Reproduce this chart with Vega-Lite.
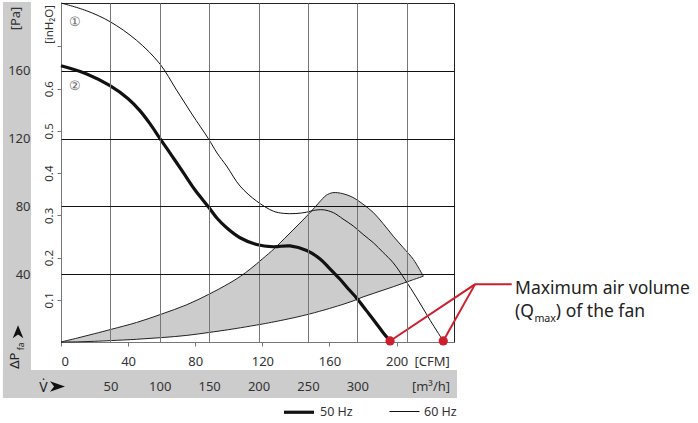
{
  "$schema": "https://vega.github.io/schema/vega-lite/v6.json",
  "width": 393,
  "height": 339,
  "autosize": {"type": "none"},
  "padding": {"left": 61, "top": 3, "right": 244, "bottom": 81},
  "config": {
    "font": "Noto Sans",
    "view": {"stroke": "#222", "strokeWidth": 1},
    "axis": {"labelFont": "Noto Sans", "titleFont": "Noto Sans", "labelColor": "#333", "titleColor": "#333", "titleFontWeight": "normal", "labelOverlap": false}
  },
  "datasets": {
    "bands": [
      {"x": -34.6, "x2": -17.9, "y": 200.6, "y2": -33.0},
      {"x": -34.6, "x2": 236.0, "y": -16.5, "y2": -33.0}
    ],
    "region": [
      {"cfm": 0, "up": 0, "lo": 0}, {"cfm": 10, "up": 2.4, "lo": 0.1}, {"cfm": 20, "up": 4.9, "lo": 0.4},
      {"cfm": 30, "up": 7.5, "lo": 0.85}, {"cfm": 45, "up": 11.5, "lo": 1.6}, {"cfm": 60, "up": 16.5, "lo": 2.6},
      {"cfm": 75, "up": 22, "lo": 3.9}, {"cfm": 88, "up": 28.1, "lo": 5.6}, {"cfm": 100, "up": 34.5, "lo": 7.3},
      {"cfm": 107, "up": 38.8, "lo": 8.4}, {"cfm": 113, "up": 43.2, "lo": 9.4}, {"cfm": 120, "up": 49, "lo": 10.6},
      {"cfm": 127, "up": 55, "lo": 11.9}, {"cfm": 131, "up": 58.9, "lo": 12.7}, {"cfm": 140, "up": 67.8, "lo": 14.6},
      {"cfm": 148, "up": 75.9, "lo": 16.5}, {"cfm": 154, "up": 82.5, "lo": 18.1}, {"cfm": 158, "up": 86.5, "lo": 19.2},
      {"cfm": 162, "up": 88.1, "lo": 20.4}, {"cfm": 168, "up": 87.5, "lo": 22.2}, {"cfm": 174, "up": 85.3, "lo": 24.2},
      {"cfm": 180, "up": 81.3, "lo": 26.6}, {"cfm": 186, "up": 76.5, "lo": 28.6}, {"cfm": 192, "up": 69.8, "lo": 30.6},
      {"cfm": 198, "up": 62.4, "lo": 32.6}, {"cfm": 204, "up": 55.6, "lo": 34.7}, {"cfm": 210, "up": 48.7, "lo": 36.8},
      {"cfm": 215.9, "up": 38.8, "lo": 38.8}
    ],
    "curves": [
      {"series": "50 Hz", "cfm": 0, "pa": 163.0}, {"series": "50 Hz", "cfm": 15, "pa": 158.3},
      {"series": "50 Hz", "cfm": 29.2, "pa": 151.2}, {"series": "50 Hz", "cfm": 40, "pa": 143.5},
      {"series": "50 Hz", "cfm": 47, "pa": 136.5}, {"series": "50 Hz", "cfm": 53, "pa": 128.8},
      {"series": "50 Hz", "cfm": 59, "pa": 120.0},
      {"series": "50 Hz", "cfm": 66, "pa": 110.0}, {"series": "50 Hz", "cfm": 72.9, "pa": 99.9},
      {"series": "50 Hz", "cfm": 80, "pa": 89.5}, {"series": "50 Hz", "cfm": 87.8, "pa": 79.8},
      {"series": "50 Hz", "cfm": 93, "pa": 73.0}, {"series": "50 Hz", "cfm": 98.7, "pa": 67.4},
      {"series": "50 Hz", "cfm": 106.7, "pa": 61.5}, {"series": "50 Hz", "cfm": 116.6, "pa": 57.5},
      {"series": "50 Hz", "cfm": 126.5, "pa": 56.2}, {"series": "50 Hz", "cfm": 136.5, "pa": 56.7},
      {"series": "50 Hz", "cfm": 146.4, "pa": 54.0}, {"series": "50 Hz", "cfm": 154.4, "pa": 49.0},
      {"series": "50 Hz", "cfm": 160, "pa": 43.5}, {"series": "50 Hz", "cfm": 166.3, "pa": 37.0},
      {"series": "50 Hz", "cfm": 171, "pa": 31.6}, {"series": "50 Hz", "cfm": 176.2, "pa": 25.9},
      {"series": "50 Hz", "cfm": 182, "pa": 18.5}, {"series": "50 Hz", "cfm": 187.1, "pa": 12.0},
      {"series": "50 Hz", "cfm": 192, "pa": 5.5}, {"series": "50 Hz", "cfm": 196.1, "pa": 0.6},
      {"series": "60 Hz", "cfm": 0, "pa": 200}, {"series": "60 Hz", "cfm": 15, "pa": 195.5},
      {"series": "60 Hz", "cfm": 29.2, "pa": 189.0}, {"series": "60 Hz", "cfm": 45, "pa": 178.0},
      {"series": "60 Hz", "cfm": 59, "pa": 164.0}, {"series": "60 Hz", "cfm": 68.5, "pa": 149.2},
      {"series": "60 Hz", "cfm": 78, "pa": 134.5}, {"series": "60 Hz", "cfm": 87.8, "pa": 120.0},
      {"series": "60 Hz", "cfm": 93, "pa": 111.5}, {"series": "60 Hz", "cfm": 98.7, "pa": 103.8},
      {"series": "60 Hz", "cfm": 106.7, "pa": 92.0}, {"series": "60 Hz", "cfm": 116.6, "pa": 83.1},
      {"series": "60 Hz", "cfm": 126.5, "pa": 77.2}, {"series": "60 Hz", "cfm": 132.5, "pa": 75.9},
      {"series": "60 Hz", "cfm": 140, "pa": 75.8}, {"series": "60 Hz", "cfm": 146.4, "pa": 76.6},
      {"series": "60 Hz", "cfm": 150.4, "pa": 77.6}, {"series": "60 Hz", "cfm": 156.3, "pa": 78.0},
      {"series": "60 Hz", "cfm": 162.3, "pa": 76.3}, {"series": "60 Hz", "cfm": 168, "pa": 72.6},
      {"series": "60 Hz", "cfm": 174.2, "pa": 68.4}, {"series": "60 Hz", "cfm": 180, "pa": 63.5},
      {"series": "60 Hz", "cfm": 186.2, "pa": 58.5}, {"series": "60 Hz", "cfm": 192, "pa": 52.8},
      {"series": "60 Hz", "cfm": 198, "pa": 46.7}, {"series": "60 Hz", "cfm": 205, "pa": 36.8},
      {"series": "60 Hz", "cfm": 212, "pa": 26.0}, {"series": "60 Hz", "cfm": 220, "pa": 12.8},
      {"series": "60 Hz", "cfm": 227.8, "pa": 0.6}
    ],
    "redlines": [
      {"g": "a", "o": 1, "cfm": 196.1, "pa": 0.6}, {"g": "a", "o": 2, "cfm": 246.7, "pa": 34.0}, {"g": "a", "o": 3, "cfm": 268.6, "pa": 34.0},
      {"g": "b", "o": 1, "cfm": 227.8, "pa": 0.6}, {"g": "b", "o": 2, "cfm": 246.7, "pa": 34.0}
    ],
    "reddots": [{"cfm": 196.1, "pa": 0.6}, {"cfm": 227.8, "pa": 0.6}],
    "bigtext": [
      {"t": "Maximum air volume", "cfm": 270.6, "pa": 31.3},
      {"t": "(Q", "cfm": 270.6, "pa": 17.9},
      {"t": ") of the fan", "cfm": 294.9, "pa": 17.9}
    ],
    "subtext": [{"t": "max", "cfm": 282.1, "pa": 13.6}],
    "circled": [{"t": "①", "cfm": 8.3, "pa": 189.0}, {"t": "②", "cfm": 8.3, "pa": 151.0}],
    "vlabel": [{"t": "V\u0307", "cfm": -10.4, "pa": -29.3}],
    "dplabel": [{"t": "ΔP", "cfm": -27.7, "pa": -11.0}],
    "dpsub": [{"t": "fa", "cfm": -24.0, "pa": -2.6}],
    "uparrow": [{"cfm": -25.6, "pa": 6.1}],
    "rightarrow": [{"cfm": -2.1, "pa": -26.3}]
  },
  "layer": [
    {
      "data": {"name": "bands"},
      "mark": {"type": "rect", "color": "#cccccc"},
      "encoding": {
        "x": {"field": "x", "type": "quantitative", "scale": {"domain": [0, 234.2], "nice": false, "zero": false}, "axis": null},
        "x2": {"field": "x2"},
        "y": {"field": "y", "type": "quantitative", "scale": {"domain": [0, 200], "nice": false, "zero": false}, "axis": null},
        "y2": {"field": "y2"}
      }
    },
    {
      "data": {"name": "region"},
      "mark": {"type": "area", "color": "#cccccc", "opacity": 1, "interpolate": "catmull-rom", "stroke": "#222", "strokeWidth": 1},
      "encoding": {
        "x": {"field": "cfm", "type": "quantitative", "scale": {"domain": [0, 234.2], "nice": false, "zero": false},
          "axis": {"orient": "bottom", "values": [0, 40, 80, 120, 160, 200], "grid": false, "tickSize": 4, "tickColor": "#777", "domainColor": "#777",
            "labelFontSize": 13, "labelBaseline": "middle", "labelPadding": 15,
            "title": "[CFM]", "titleFontSize": 13, "titleX": 370.7, "titleY": 19, "titleAlign": "center", "titleBaseline": "middle"}},
        "y": {"field": "up", "type": "quantitative", "scale": {"domain": [0, 200], "nice": false, "zero": false},
          "axis": {"orient": "left", "values": [40, 80, 120, 160], "grid": true, "gridColor": "#111", "gridWidth": 1, "ticks": false, "tickSize": 0, "domain": false,
            "labelFontSize": 13, "labelPadding": 31, "zindex": 1,
            "title": "[Pa]", "titleFontSize": 13, "titleAngle": 270, "titleX": -46, "titleY": 15, "titleAlign": "center", "titleBaseline": "middle"}},
        "y2": {"field": "lo"}
      }
    },
    {
      "data": {"name": "curves"},
      "mark": {"type": "line", "color": "#111", "interpolate": "catmull-rom"},
      "encoding": {
        "x": {"field": "cfm", "type": "quantitative", "scale": {"domain": [0, 234.2], "nice": false, "zero": false},
          "axis": {"orient": "bottom", "values": [29.43, 58.86, 88.29, 117.72, 147.15, 176.57, 206.0],
            "labelExpr": "datum.value > 200 ? '' : format(round(datum.value * 1.69901), 'd')",
            "grid": true, "gridColor": "#777", "gridWidth": 1, "ticks": false, "tickSize": 0, "domain": false, "zindex": 1,
            "labelFontSize": 13, "labelBaseline": "middle", "labelPadding": 44,
            "title": "[m³/h]", "titleFontSize": 13, "titleX": 369.5, "titleY": 44.5, "titleAlign": "center", "titleBaseline": "middle"}},
        "y": {"field": "pa", "type": "quantitative", "scale": {"domain": [0, 200], "nice": false, "zero": false},
          "axis": {"orient": "left", "values": [24.91, 49.82, 74.73, 99.64, 124.54, 149.45, 174.36],
            "labelExpr": "datum.value > 160 ? '' : format(datum.value / 249.089, '.1f')",
            "grid": false, "tickSize": 4, "tickColor": "#777", "domainColor": "#777",
            "labelAngle": 270, "labelAlign": "center", "labelBaseline": "alphabetic", "labelPadding": 4.5, "labelFontSize": 11.5,
            "title": "[inH₂O]", "titleFontSize": 11.5, "titleAngle": 270, "titleX": -12, "titleY": 21, "titleAlign": "center", "titleBaseline": "middle"}},
        "strokeWidth": {"field": "series", "type": "nominal",
          "scale": {"domain": ["50 Hz", "60 Hz"], "range": [3.2, 1]},
          "legend": {"orient": "none", "legendX": 221, "legendY": 392, "direction": "horizontal", "title": null,
            "symbolType": "stroke", "symbolSize": 900, "symbolStrokeColor": "#111", "labelFontSize": 12.5, "labelColor": "#333",
            "labelOffset": 4, "columnPadding": 34, "labelFont": "Noto Sans"}}
      }
    },
    {
      "data": {"name": "redlines"},
      "mark": {"type": "line", "color": "#cc1f2e", "strokeWidth": 2},
      "encoding": {
        "x": {"field": "cfm", "type": "quantitative", "scale": {"domain": [0, 234.2], "nice": false, "zero": false}, "axis": null},
        "y": {"field": "pa", "type": "quantitative", "scale": {"domain": [0, 200], "nice": false, "zero": false}, "axis": null},
        "detail": {"field": "g"},
        "order": {"field": "o"}
      }
    },
    {
      "data": {"name": "reddots"},
      "mark": {"type": "point", "shape": "circle", "filled": true, "color": "#cc1f2e", "opacity": 1, "size": 85},
      "encoding": {
        "x": {"field": "cfm", "type": "quantitative", "scale": {"domain": [0, 234.2], "nice": false, "zero": false}, "axis": null},
        "y": {"field": "pa", "type": "quantitative", "scale": {"domain": [0, 200], "nice": false, "zero": false}, "axis": null}
      }
    },
    {
      "data": {"name": "bigtext"},
      "mark": {"type": "text", "align": "left", "baseline": "middle", "fontSize": 17.5, "color": "#222"},
      "encoding": {
        "x": {"field": "cfm", "type": "quantitative", "scale": {"domain": [0, 234.2], "nice": false, "zero": false}, "axis": null},
        "y": {"field": "pa", "type": "quantitative", "scale": {"domain": [0, 200], "nice": false, "zero": false}, "axis": null},
        "text": {"field": "t"}
      }
    },
    {
      "data": {"name": "subtext"},
      "mark": {"type": "text", "align": "left", "baseline": "middle", "fontSize": 10.7, "color": "#222"},
      "encoding": {
        "x": {"field": "cfm", "type": "quantitative", "scale": {"domain": [0, 234.2], "nice": false, "zero": false}, "axis": null},
        "y": {"field": "pa", "type": "quantitative", "scale": {"domain": [0, 200], "nice": false, "zero": false}, "axis": null},
        "text": {"field": "t"}
      }
    },
    {
      "data": {"name": "circled"},
      "mark": {"type": "text", "align": "center", "baseline": "middle", "fontSize": 13, "color": "#666"},
      "encoding": {
        "x": {"field": "cfm", "type": "quantitative", "scale": {"domain": [0, 234.2], "nice": false, "zero": false}, "axis": null},
        "y": {"field": "pa", "type": "quantitative", "scale": {"domain": [0, 200], "nice": false, "zero": false}, "axis": null},
        "text": {"field": "t"}
      }
    },
    {
      "data": {"name": "vlabel"},
      "mark": {"type": "text", "align": "center", "baseline": "alphabetic", "fontSize": 14, "color": "#222"},
      "encoding": {
        "x": {"field": "cfm", "type": "quantitative", "scale": {"domain": [0, 234.2], "nice": false, "zero": false}, "axis": null},
        "y": {"field": "pa", "type": "quantitative", "scale": {"domain": [0, 200], "nice": false, "zero": false}, "axis": null},
        "text": {"field": "t"}
      }
    },
    {
      "data": {"name": "dplabel"},
      "mark": {"type": "text", "align": "center", "baseline": "middle", "angle": 270, "fontSize": 13, "color": "#222"},
      "encoding": {
        "x": {"field": "cfm", "type": "quantitative", "scale": {"domain": [0, 234.2], "nice": false, "zero": false}, "axis": null},
        "y": {"field": "pa", "type": "quantitative", "scale": {"domain": [0, 200], "nice": false, "zero": false}, "axis": null},
        "text": {"field": "t"}
      }
    },
    {
      "data": {"name": "dpsub"},
      "mark": {"type": "text", "align": "center", "baseline": "middle", "angle": 270, "fontSize": 8.5, "color": "#222"},
      "encoding": {
        "x": {"field": "cfm", "type": "quantitative", "scale": {"domain": [0, 234.2], "nice": false, "zero": false}, "axis": null},
        "y": {"field": "pa", "type": "quantitative", "scale": {"domain": [0, 200], "nice": false, "zero": false}, "axis": null},
        "text": {"field": "t"}
      }
    },
    {
      "data": {"name": "uparrow"},
      "mark": {"type": "point", "shape": "M-0.82,1L0,-1L0.82,1L0,0.45Z", "filled": true, "color": "#111", "opacity": 1, "size": 169},
      "encoding": {
        "x": {"field": "cfm", "type": "quantitative", "scale": {"domain": [0, 234.2], "nice": false, "zero": false}, "axis": null},
        "y": {"field": "pa", "type": "quantitative", "scale": {"domain": [0, 200], "nice": false, "zero": false}, "axis": null}
      }
    },
    {
      "data": {"name": "rightarrow"},
      "mark": {"type": "point", "shape": "M-1,-0.7L1,0L-1,0.7L-0.45,0Z", "filled": true, "color": "#111", "opacity": 1, "size": 225},
      "encoding": {
        "x": {"field": "cfm", "type": "quantitative", "scale": {"domain": [0, 234.2], "nice": false, "zero": false}, "axis": null},
        "y": {"field": "pa", "type": "quantitative", "scale": {"domain": [0, 200], "nice": false, "zero": false}, "axis": null}
      }
    }
  ],
  "resolve": {
    "scale": {"x": "independent", "y": "independent"},
    "axis": {"x": "independent", "y": "independent"}
  }
}
